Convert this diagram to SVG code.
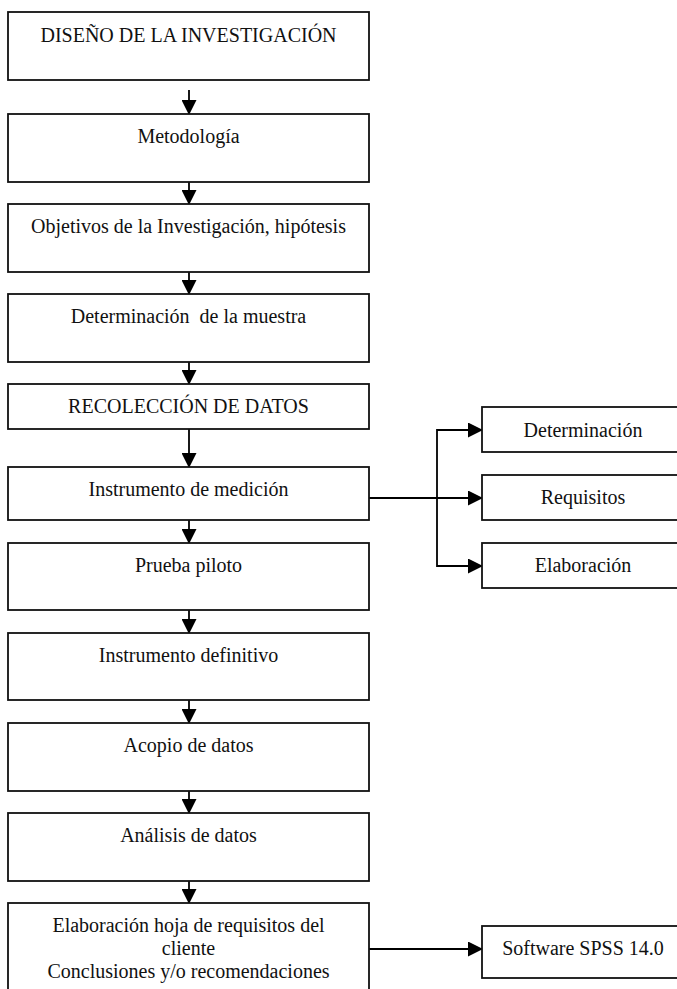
<svg xmlns="http://www.w3.org/2000/svg" width="677" height="989" viewBox="0 0 677 989">
  <defs>
    <marker id="arrow" markerUnits="userSpaceOnUse" markerWidth="15" markerHeight="15" viewBox="0 0 15 15" refX="14" refY="7.5" orient="auto">
      <path d="M0,0 L15,7.5 L0,15 Z" fill="#000"/>
    </marker>
    <style>
      .box { fill: #fff; stroke: #111; stroke-width: 1.8; }
      .con { fill: none; stroke: #000; stroke-width: 1.8; }
    </style>
  </defs>
  <rect width="677" height="989" fill="#fff"/>

  <!-- connectors -->
  <g id="connectors">
    <line class="con" x1="189" y1="90" x2="189" y2="114" marker-end="url(#arrow)"/>
    <line class="con" x1="189" y1="182" x2="189" y2="204" marker-end="url(#arrow)"/>
    <line class="con" x1="189" y1="272" x2="189" y2="294" marker-end="url(#arrow)"/>
    <line class="con" x1="189" y1="362" x2="189" y2="384" marker-end="url(#arrow)"/>
    <line class="con" x1="189" y1="429" x2="189" y2="467" marker-end="url(#arrow)"/>
    <line class="con" x1="189" y1="520" x2="189" y2="543" marker-end="url(#arrow)"/>
    <line class="con" x1="189" y1="610" x2="189" y2="633" marker-end="url(#arrow)"/>
    <line class="con" x1="189" y1="700" x2="189" y2="723" marker-end="url(#arrow)"/>
    <line class="con" x1="189" y1="791" x2="189" y2="813" marker-end="url(#arrow)"/>
    <line class="con" x1="189" y1="881" x2="189" y2="903" marker-end="url(#arrow)"/>
    <!-- branch to the three measurement sub-steps -->
    <line class="con" x1="369" y1="498" x2="482" y2="498" marker-end="url(#arrow)"/>
    <polyline class="con" points="437,498 437,430 482,430" marker-end="url(#arrow)"/>
    <polyline class="con" points="437,498 437,566 482,566" marker-end="url(#arrow)"/>
    <line class="con" x1="369" y1="949" x2="482" y2="949" marker-end="url(#arrow)"/>
  </g>

  <g font-family="'Liberation Serif', 'DejaVu Serif', 'Times New Roman', serif" font-size="20" fill="#111" text-anchor="middle">
  <g id="n-diseno">
    <rect class="box" x="8" y="12" width="361" height="68"/>
    <text x="188.5" y="42">DISEÑO DE LA INVESTIGACIÓN</text>
  </g>
  <g id="n-metodologia">
    <rect class="box" x="8" y="114" width="361" height="68"/>
    <text x="188.5" y="143">Metodología</text>
  </g>
  <g id="n-objetivos">
    <rect class="box" x="8" y="204" width="361" height="68"/>
    <text x="188.5" y="233">Objetivos de la Investigación, hipótesis</text>
  </g>
  <g id="n-muestra">
    <rect class="box" x="8" y="294" width="361" height="68"/>
    <text x="188.5" y="323" xml:space="preserve">Determinación  de la muestra</text>
  </g>
  <g id="n-recoleccion">
    <rect class="box" x="8" y="384" width="361" height="45"/>
    <text x="188.5" y="413">RECOLECCIÓN DE DATOS</text>
  </g>
  <g id="n-instrumento">
    <rect class="box" x="8" y="467" width="361" height="53"/>
    <text x="188.5" y="496">Instrumento de medición</text>
  </g>
  <g id="n-piloto">
    <rect class="box" x="8" y="543" width="361" height="67"/>
    <text x="188.5" y="572">Prueba piloto</text>
  </g>
  <g id="n-definitivo">
    <rect class="box" x="8" y="633" width="361" height="67"/>
    <text x="188.5" y="662">Instrumento definitivo</text>
  </g>
  <g id="n-acopio">
    <rect class="box" x="8" y="723" width="361" height="68"/>
    <text x="188.5" y="752">Acopio de datos</text>
  </g>
  <g id="n-analisis">
    <rect class="box" x="8" y="813" width="361" height="68"/>
    <text x="188.5" y="842">Análisis de datos</text>
  </g>
  <g id="n-elaboracion-hoja">
    <rect class="box" x="8" y="903" width="361" height="90"/>
    <text x="188.5" y="932">Elaboración hoja de requisitos del</text>
    <text x="188.5" y="955">cliente</text>
    <text x="188.5" y="978">Conclusiones y/o recomendaciones</text>
  </g>

  <g id="n-determinacion">
    <rect class="box" x="482" y="407" width="202" height="45"/>
    <text x="583" y="437">Determinación</text>
  </g>
  <g id="n-requisitos">
    <rect class="box" x="482" y="475" width="202" height="45"/>
    <text x="583" y="504">Requisitos</text>
  </g>
  <g id="n-elaboracion">
    <rect class="box" x="482" y="543" width="202" height="45"/>
    <text x="583" y="572">Elaboración</text>
  </g>
  <g id="n-spss">
    <rect class="box" x="482" y="926" width="202" height="52"/>
    <text x="583" y="955">Software SPSS 14.0</text>
  </g>
  </g>
</svg>
